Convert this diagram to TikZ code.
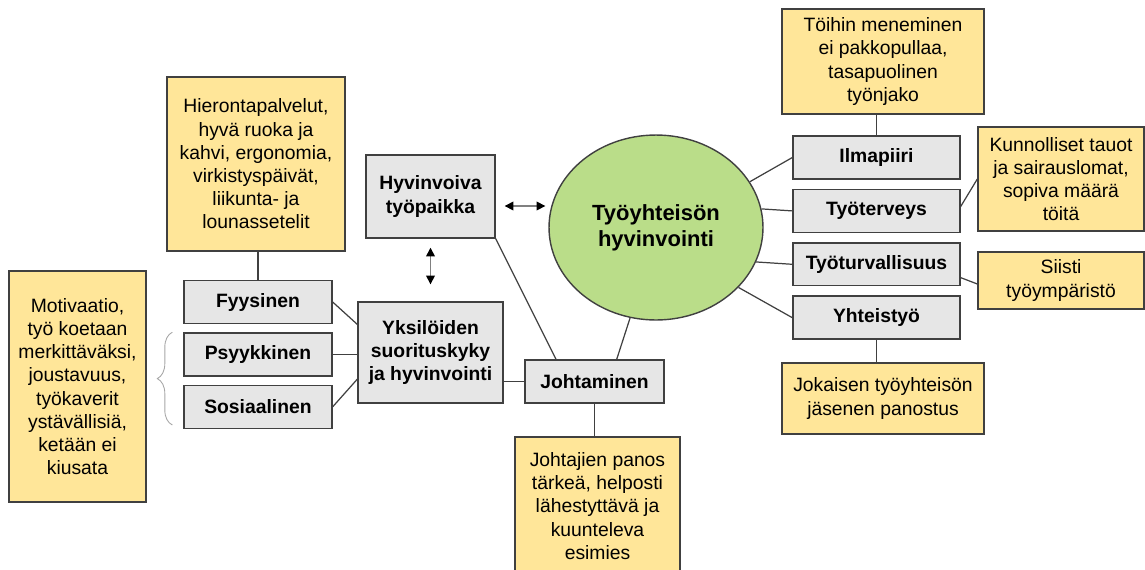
\documentclass[tikz,border=0pt]{standalone}
\usepackage{fontspec}
\setmainfont{Liberation Sans}
\usetikzlibrary{arrows.meta,positioning,shapes.geometric,decorations.pathreplacing}
\definecolor{notefill}{RGB}{255,230,153}
\definecolor{boxfill}{RGB}{230,230,230}
\definecolor{hubfill}{RGB}{186,221,137}
\definecolor{edge}{RGB}{64,64,64}

\begin{document}
\begin{tikzpicture}[x=0.02cm, y=-0.02cm, node distance=0.18cm]
		\tikzstyle{note} = [rectangle, draw=edge, fill=notefill, line width=0.8pt, 
		inner sep=0pt, align=center, font=\fontsize{11}{13.2}\selectfont]
		\tikzstyle{factor} = [rectangle, draw=edge, fill=boxfill, line width=0.8pt, 
		inner sep=0pt, minimum height=0.86cm, align=center, font=\bfseries\fontsize{11}{13.2}\selectfont]
		\tikzstyle{hub} = [ellipse, draw=edge, fill=hubfill, line width=0.8pt, inner sep=0pt, 
		minimum width=4.28cm, minimum height=3.70cm, align=center, font=\bfseries\fontsize{12.5}{15}\selectfont]
		\tikzstyle{link} = [draw=edge, line width=0.7pt]
		\tikzstyle{arrow} = [draw=gray, line width=0.8pt, <->, >={Triangle[length=5pt,width=5pt,black]}]
		\tikzstyle{curly} = [draw=gray!70, line width=0.5pt, decorate, decoration={brace, amplitude=0.3cm}]
		\useasboundingbox (0,0) rectangle (1145,569);
		\node (ell) [hub] at (656,227.5) {Työyhteisön\\hyvinvointi};
		\node (hyvin) [factor, minimum width=2.58cm, minimum height=1.66cm] at (430.5,196.5) {Hyvinvoiva\\työpaikka};
		\node (yksil) [factor, minimum width=2.90cm, minimum height=2.02cm] at (430.5,352.5) {Yksilöiden\\suorituskyky\\ja hyvinvointi};
		\node (johtam) [factor, minimum width=2.78cm] at (594.5,381.5) {Johtaminen};
		\node (fyys) [factor, minimum width=2.96cm] at (258,302) {Fyysinen};
		\node (psyyk) [factor, minimum width=2.96cm, below=0.16cm of fyys] {Psyykkinen};
		\node (sosiaal) [factor, minimum width=2.96cm, below=0.16cm of psyyk] {Sosiaalinen};
		\node (ilma) [factor, minimum width=3.34cm] at (876.5,157.5) {Ilmapiiri};
		\node (tyoterv) [factor, minimum width=3.34cm, below=of ilma] {Työterveys};
		\node (tyoturv) [factor, minimum width=3.34cm, below=of tyoterv] {Työturvallisuus};
		\node (yhteis) [factor, minimum width=3.34cm, below=of tyoturv] {Yhteistyö};
		\node (motiv) [note, minimum width=2.74cm, minimum height=4.62cm] at (77.5,386.5) 
		{Motivaatio,\\työ koetaan\\merkittäväksi,\\joustavuus,\\työkaverit\\ystävällisiä,\\ketään ei\\kiusata};
		\node (hieronta) [note, minimum width=3.56cm, minimum height=3.48cm] at (256,164) 
		{Hierontapalvelut,\\hyvä ruoka ja\\kahvi, ergonomia,\\virkistyspäivät,\\liikunta- ja\\lounassetelit};
		\node (johtajat) [note, minimum width=3.30cm, minimum height=2.76cm] at (597.5,506) 
		{Johtajien panos\\tärkeä, helposti\\lähestyttävä ja\\kuunteleva\\esimies};
		\node (toihin) [note, minimum width=4.04cm, minimum height=2.10cm] at (883,61.5) 
		{Töihin meneminen\\ei pakkopullaa,\\tasapuolinen\\työnjako};
		\node (tauot) [note, minimum width=3.32cm, minimum height=2.08cm] at (1061,179) 
		{Kunnolliset tauot\\ja sairauslomat,\\sopiva määrä\\töitä};
		\node (siisti) [note, minimum width=3.32cm, minimum height=1.14cm] at (1061,280.5) 
		{Siisti\\työympäristö};
		\node (jokainen) [note, minimum width=4.04cm, minimum height=1.42cm] at (883,398.5) 
		{Jokaisen työyhteisön\\jäsenen panostus};
		% left side
		\draw [link] (fyys.north |- hieronta.south) -- (fyys.north);
		\draw [link] (fyys.east) -- (yksil.159);
		\draw [link] (psyyk.east) -- (yksil.west |- psyyk.east);
		\draw [link] (sosiaal.east) -- (yksil.200);
		\draw [curly] ([xshift=-0.22cm,yshift=0.08cm]sosiaal.south west) -- ([xshift=-0.22cm]psyyk.north west);
		\draw [link] (johtam.west -| yksil.east) -- (johtam.west);
		\draw [link] (hyvin.south east) -- (johtam.150);
		\draw [link] (ell.254) -- (johtam.45);
		\draw [link] (johtam.south) -- (johtam.south |- johtajat.north);
		\draw [arrow, shorten <=0.18cm, shorten >=0.06cm] ([yshift=-0.19cm]hyvin.east) -- ([yshift=-0.19cm]hyvin.east -| ell.west);
		\draw [arrow, shorten <=0.18cm, shorten >=0.34cm] (hyvin.south) -- (yksil.north);
		% right side
		\draw [link] (ell.26) -- (ilma.west);
		\draw [link] (ell.10) -- (tyoterv.west);
		\draw [link] (ell.-19) -- (tyoturv.west);
		\draw [link] (ell.-36) -- (yhteis.west);
		\draw [link] (ilma.north |- toihin.south) -- (ilma.north);
		\draw [link] (tyoterv.3) -- (tauot.west);
		\draw [link] (tyoturv.-9) -- ([yshift=-0.07cm]siisti.west);
		\draw [link] (yhteis.south) -- (yhteis.south |- jokainen.north);
\end{tikzpicture}
\end{document}
